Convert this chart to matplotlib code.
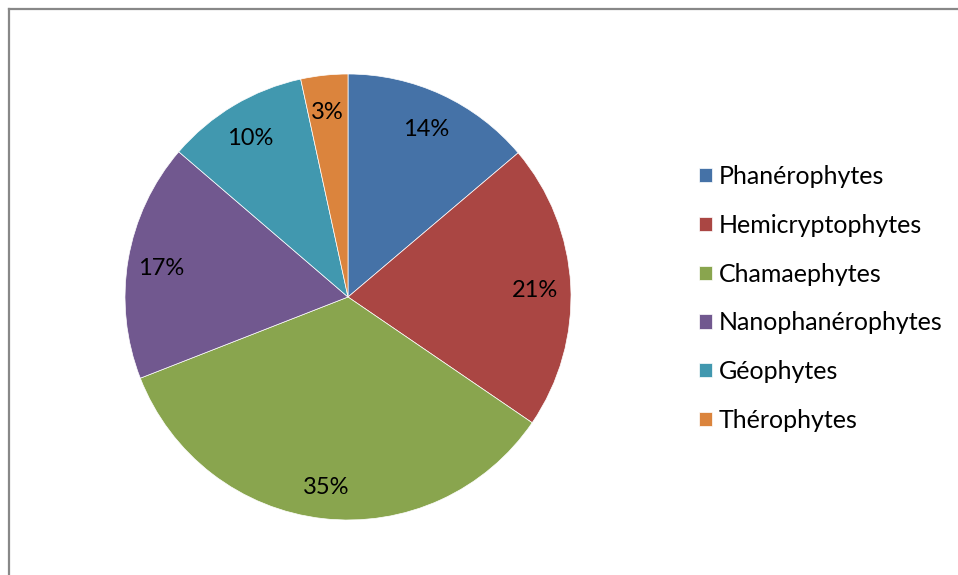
import matplotlib
matplotlib.use("Agg")
import matplotlib.pyplot as plt
from matplotlib.lines import Line2D
from matplotlib.transforms import offset_copy

categories = ["Phanérophytes", "Hemicryptophytes", "Chamaephytes",
              "Nanophanérophytes", "Géophytes", "Thérophytes"]
values = [13.8, 20.7, 34.5, 17.2, 10.3, 3.4]
pct_labels = ["14%", "21%", "35%", "17%", "10%", "3%"]
colors = ["#4572A7", "#AA4643", "#89A54E", "#71588F", "#4198AF", "#DB843D"]

plt.rcParams['font.family'] = ['Lato', 'DejaVu Sans']

W, H = 958, 575
fig = plt.figure(figsize=(W / 100, H / 100), dpi=100)

cx, cy, r = 348, 297, 223
ax = fig.add_axes([(cx - r) / W, (H - cy - r) / H, 2 * r / W, 2 * r / H])
wedges, texts = ax.pie(
    values, colors=colors, startangle=90, counterclock=False, radius=1,
    labels=pct_labels, labeldistance=0.845,
    wedgeprops=dict(edgecolor="white", linewidth=0.5),
    textprops=dict(fontsize=17, color="black", ha="center", va="center"))
shifted = offset_copy(ax.transData, fig=fig, x=-1, y=-3, units="dots")
for t in texts:
    t.set_horizontalalignment("center")
    t.set_verticalalignment("center")
    t.set_transform(shifted)
ax.set_xlim(-1, 1)
ax.set_ylim(-1, 1)
ax.set_aspect("equal")
ax.axis("off")

leg = fig.legend(wedges, categories, loc="upper left",
                 bbox_to_anchor=(699 / W, 1 - 165 / H),
                 frameon=False, fontsize=18, handlelength=0.5,
                 handleheight=0.5, handletextpad=0.3, labelspacing=1.03,
                 borderaxespad=0, borderpad=0)

# chart border (top and left edges visible)
fig.add_artist(Line2D([9 / W, 1], [1 - 9 / H, 1 - 9 / H], color="#888888",
                      linewidth=1.6, transform=fig.transFigure))
fig.add_artist(Line2D([9 / W, 9 / W], [0, 1 - 9 / H], color="#888888",
                      linewidth=1.6, transform=fig.transFigure))

fig.savefig("out.png", dpi=100, facecolor="white")
